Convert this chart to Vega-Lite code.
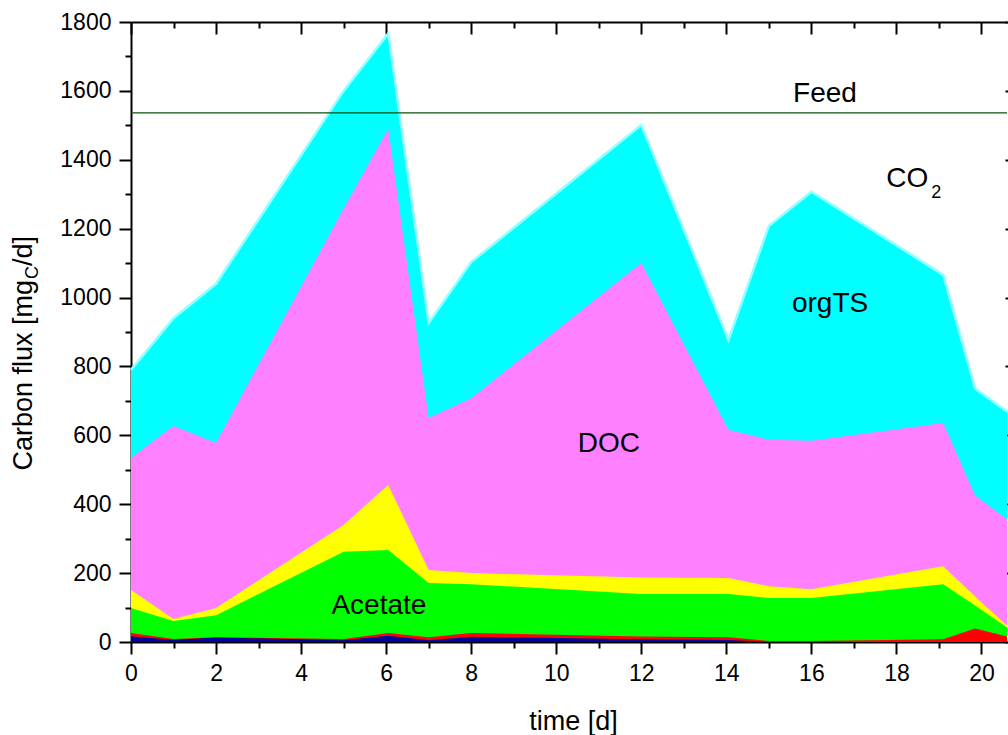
{
  "$schema": "https://vega.github.io/schema/vega-lite/v6.json",
  "width": 876,
  "height": 620,
  "autosize": {"type": "none"},
  "padding": {"left": 131, "top": 22, "right": 1, "bottom": 93},
  "background": "white",
  "config": {
    "view": {"stroke": null},
    "axis": {
      "grid": false,
      "domainColor": "black",
      "domainWidth": 2,
      "tickColor": "black",
      "tickWidth": 2,
      "labelFont": "Liberation Sans",
      "labelFontSize": 23,
      "labelColor": "black",
      "labelFlush": false,
      "labelOverlap": false,
      "titleFont": "Liberation Sans",
      "titleColor": "black",
      "titleFontWeight": "normal"
    },
    "text": {"font": "Liberation Sans", "fill": "black", "fontWeight": "normal"}
  },
  "datasets": {
    "flux": [
      {"s": "orgTS", "t": 0, "v": 790}, {"s": "orgTS", "t": 1, "v": 940}, {"s": "orgTS", "t": 2, "v": 1040},
      {"s": "orgTS", "t": 5, "v": 1600}, {"s": "orgTS", "t": 6.05, "v": 1767}, {"s": "orgTS", "t": 7, "v": 926},
      {"s": "orgTS", "t": 8, "v": 1103}, {"s": "orgTS", "t": 12, "v": 1501}, {"s": "orgTS", "t": 14.05, "v": 877},
      {"s": "orgTS", "t": 15, "v": 1208}, {"s": "orgTS", "t": 16, "v": 1307}, {"s": "orgTS", "t": 19.1, "v": 1066},
      {"s": "orgTS", "t": 19.85, "v": 736}, {"s": "orgTS", "t": 20.6, "v": 669},

      {"s": "DOC", "t": 0, "v": 534}, {"s": "DOC", "t": 1, "v": 627}, {"s": "DOC", "t": 2, "v": 578},
      {"s": "DOC", "t": 5, "v": 1258}, {"s": "DOC", "t": 6.05, "v": 1489}, {"s": "DOC", "t": 7, "v": 650},
      {"s": "DOC", "t": 8, "v": 708}, {"s": "DOC", "t": 12, "v": 1100}, {"s": "DOC", "t": 14.05, "v": 616},
      {"s": "DOC", "t": 15, "v": 587}, {"s": "DOC", "t": 16, "v": 584}, {"s": "DOC", "t": 19.1, "v": 636},
      {"s": "DOC", "t": 19.85, "v": 425}, {"s": "DOC", "t": 20.6, "v": 356},

      {"s": "otherAcids", "t": 0, "v": 151}, {"s": "otherAcids", "t": 1, "v": 67}, {"s": "otherAcids", "t": 2, "v": 99},
      {"s": "otherAcids", "t": 5, "v": 340}, {"s": "otherAcids", "t": 6.05, "v": 456}, {"s": "otherAcids", "t": 7, "v": 209},
      {"s": "otherAcids", "t": 8, "v": 200}, {"s": "otherAcids", "t": 12, "v": 187}, {"s": "otherAcids", "t": 14.05, "v": 186},
      {"s": "otherAcids", "t": 15, "v": 162}, {"s": "otherAcids", "t": 16, "v": 153}, {"s": "otherAcids", "t": 19.1, "v": 220},
      {"s": "otherAcids", "t": 19.85, "v": 132}, {"s": "otherAcids", "t": 20.6, "v": 48},

      {"s": "Acetate", "t": 0, "v": 99}, {"s": "Acetate", "t": 1, "v": 61}, {"s": "Acetate", "t": 2, "v": 78},
      {"s": "Acetate", "t": 5, "v": 262}, {"s": "Acetate", "t": 6.05, "v": 267}, {"s": "Acetate", "t": 7, "v": 171},
      {"s": "Acetate", "t": 8, "v": 168}, {"s": "Acetate", "t": 12, "v": 139}, {"s": "Acetate", "t": 14.05, "v": 139},
      {"s": "Acetate", "t": 15, "v": 128}, {"s": "Acetate", "t": 16, "v": 128}, {"s": "Acetate", "t": 19.1, "v": 168},
      {"s": "Acetate", "t": 19.85, "v": 106}, {"s": "Acetate", "t": 20.6, "v": 42},

      {"s": "minorA", "t": 0, "v": 26}, {"s": "minorA", "t": 1, "v": 9}, {"s": "minorA", "t": 2, "v": 14},
      {"s": "minorA", "t": 5, "v": 9}, {"s": "minorA", "t": 6.05, "v": 26}, {"s": "minorA", "t": 7, "v": 14},
      {"s": "minorA", "t": 8, "v": 26}, {"s": "minorA", "t": 12, "v": 16}, {"s": "minorA", "t": 14.05, "v": 14},
      {"s": "minorA", "t": 15, "v": 3}, {"s": "minorA", "t": 16, "v": 3}, {"s": "minorA", "t": 19.1, "v": 8},
      {"s": "minorA", "t": 19.85, "v": 39}, {"s": "minorA", "t": 20.6, "v": 16},

      {"s": "minorB", "t": 0, "v": 17}, {"s": "minorB", "t": 1, "v": 6}, {"s": "minorB", "t": 2, "v": 13},
      {"s": "minorB", "t": 5, "v": 5}, {"s": "minorB", "t": 6.05, "v": 18}, {"s": "minorB", "t": 7, "v": 5},
      {"s": "minorB", "t": 8, "v": 15}, {"s": "minorB", "t": 12, "v": 8}, {"s": "minorB", "t": 14.05, "v": 6},
      {"s": "minorB", "t": 15, "v": 0}, {"s": "minorB", "t": 16, "v": 0}, {"s": "minorB", "t": 19.1, "v": 0},
      {"s": "minorB", "t": 19.85, "v": 0}, {"s": "minorB", "t": 20.6, "v": 0}
    ],
    "one": [{}]
  },
  "resolve": {"axis": {"x": "independent", "y": "independent"}},
  "layer": [
    {
      "data": {"name": "flux"},
      "transform": [{"filter": "datum.s === 'orgTS'"}],
      "mark": {"type": "area", "color": "#00ffff", "opacity": 1},
      "encoding": {
        "x": {"field": "t", "type": "quantitative", "scale": {"domain": [0, 20.6], "nice": false, "zero": false},
          "axis": {"orient": "bottom", "values": [0, 2, 4, 6, 8, 10, 12, 14, 16, 18, 20], "tickSize": 12, "labelPadding": 8,
            "title": "time [d]", "titleFontSize": 27, "titleX": 442, "titleY": 87, "titleAlign": "center", "titleBaseline": "alphabetic"}},
        "y": {"field": "v", "type": "quantitative", "stack": null, "scale": {"domain": [0, 1800], "nice": false},
          "axis": {"orient": "left", "format": "d", "values": [0, 200, 400, 600, 800, 1000, 1200, 1400, 1600, 1800], "tickSize": 12, "labelPadding": 8, "title": null}}
      }
    },
    {
      "data": {"name": "flux"},
      "transform": [{"filter": "datum.s === 'orgTS'"}],
      "mark": {"type": "line", "color": "#90ffff", "strokeWidth": 2.5},
      "encoding": {
        "x": {"field": "t", "type": "quantitative", "scale": {"domain": [0, 20.6], "nice": false, "zero": false},
          "axis": {"orient": "bottom", "values": [1, 3, 5, 7, 9, 11, 13, 15, 17, 19], "tickSize": 6, "labels": false, "domain": false, "title": null}},
        "y": {"field": "v", "type": "quantitative", "scale": {"domain": [0, 1800], "nice": false},
          "axis": {"orient": "left", "values": [100, 300, 500, 700, 900, 1100, 1300, 1500, 1700], "tickSize": 6, "labels": false, "domain": false, "title": null}}
      }
    },
    {
      "data": {"name": "flux"},
      "transform": [{"filter": "datum.s === 'DOC'"}],
      "mark": {"type": "area", "color": "#ff80ff", "opacity": 1},
      "encoding": {
        "x": {"field": "t", "type": "quantitative", "scale": {"domain": [0, 20.6], "nice": false, "zero": false},
          "axis": {"orient": "top", "values": [0, 2, 4, 6, 8, 10, 12, 14, 16, 18, 20], "tickSize": -12, "labels": false, "title": null}},
        "y": {"field": "v", "type": "quantitative", "stack": null, "scale": {"domain": [0, 1800], "nice": false},
          "axis": {"orient": "right", "offset": 9, "values": [0, 200, 400, 600, 800, 1000, 1200, 1400, 1600, 1800], "tickSize": -11, "labels": false, "domain": false, "title": null}}
      }
    },
    {
      "data": {"name": "flux"},
      "transform": [{"filter": "datum.s === 'otherAcids'"}],
      "mark": {"type": "area", "color": "#ffff00", "opacity": 1},
      "encoding": {
        "x": {"field": "t", "type": "quantitative", "scale": {"domain": [0, 20.6], "nice": false, "zero": false},
          "axis": {"orient": "top", "values": [1, 3, 5, 7, 9, 11, 13, 15, 17, 19], "tickSize": -6, "labels": false, "domain": false, "title": null}},
        "y": {"field": "v", "type": "quantitative", "stack": null, "scale": {"domain": [0, 1800], "nice": false},
          "axis": {"orient": "right", "offset": 9, "values": [100, 300, 500, 700, 900, 1100, 1300, 1500, 1700], "tickSize": -6, "labels": false, "domain": false, "title": null}}
      }
    },
    {
      "data": {"name": "flux"},
      "transform": [{"filter": "datum.s === 'Acetate'"}],
      "mark": {"type": "area", "color": "#00ff00", "opacity": 1},
      "encoding": {
        "x": {"field": "t", "type": "quantitative", "scale": {"domain": [0, 20.6], "nice": false, "zero": false}, "axis": null},
        "y": {"field": "v", "type": "quantitative", "stack": null, "scale": {"domain": [0, 1800], "nice": false}, "axis": null}
      }
    },
    {
      "data": {"name": "flux"},
      "transform": [{"filter": "datum.s === 'minorA'"}],
      "mark": {"type": "area", "color": "#ff0000", "opacity": 1},
      "encoding": {
        "x": {"field": "t", "type": "quantitative", "scale": {"domain": [0, 20.6], "nice": false, "zero": false}, "axis": null},
        "y": {"field": "v", "type": "quantitative", "stack": null, "scale": {"domain": [0, 1800], "nice": false}, "axis": null}
      }
    },
    {
      "data": {"name": "flux"},
      "transform": [{"filter": "datum.s === 'minorB'"}],
      "mark": {"type": "area", "color": "#0000a0", "opacity": 1},
      "encoding": {
        "x": {"field": "t", "type": "quantitative", "scale": {"domain": [0, 20.6], "nice": false, "zero": false}, "axis": null},
        "y": {"field": "v", "type": "quantitative", "stack": null, "scale": {"domain": [0, 1800], "nice": false}, "axis": null}
      }
    },
    {
      "data": {"name": "one"},
      "mark": {"type": "rule", "color": "#0b500b", "strokeWidth": 1.2},
      "encoding": {
        "y": {"datum": 1536, "type": "quantitative", "scale": {"domain": [0, 1800], "nice": false}, "axis": null}
      }
    },
    {
      "data": {"name": "one"},
      "mark": {"type": "text", "text": "Feed", "fontSize": 28, "align": "center", "baseline": "alphabetic"},
      "encoding": {
        "x": {"datum": 16.32, "type": "quantitative", "scale": {"domain": [0, 20.6], "nice": false, "zero": false}, "axis": null},
        "y": {"datum": 1568, "type": "quantitative", "scale": {"domain": [0, 1800], "nice": false}, "axis": null}
      }
    },
    {
      "data": {"name": "one"},
      "mark": {"type": "text", "text": "CO", "fontSize": 28, "align": "left", "baseline": "alphabetic"},
      "encoding": {
        "x": {"datum": 17.76, "type": "quantitative", "scale": {"domain": [0, 20.6], "nice": false, "zero": false}, "axis": null},
        "y": {"datum": 1321, "type": "quantitative", "scale": {"domain": [0, 1800], "nice": false}, "axis": null}
      }
    },
    {
      "data": {"name": "one"},
      "mark": {"type": "text", "text": "2", "fontSize": 18, "align": "left", "baseline": "alphabetic", "dx": 45, "dy": 11},
      "encoding": {
        "x": {"datum": 17.76, "type": "quantitative", "scale": {"domain": [0, 20.6], "nice": false, "zero": false}, "axis": null},
        "y": {"datum": 1321, "type": "quantitative", "scale": {"domain": [0, 1800], "nice": false}, "axis": null}
      }
    },
    {
      "data": {"name": "one"},
      "mark": {"type": "text", "text": "orgTS", "fontSize": 28, "align": "center", "baseline": "alphabetic"},
      "encoding": {
        "x": {"datum": 16.44, "type": "quantitative", "scale": {"domain": [0, 20.6], "nice": false, "zero": false}, "axis": null},
        "y": {"datum": 958, "type": "quantitative", "scale": {"domain": [0, 1800], "nice": false}, "axis": null}
      }
    },
    {
      "data": {"name": "one"},
      "mark": {"type": "text", "text": "DOC", "fontSize": 28, "align": "center", "baseline": "alphabetic"},
      "encoding": {
        "x": {"datum": 11.24, "type": "quantitative", "scale": {"domain": [0, 20.6], "nice": false, "zero": false}, "axis": null},
        "y": {"datum": 551, "type": "quantitative", "scale": {"domain": [0, 1800], "nice": false}, "axis": null}
      }
    },
    {
      "data": {"name": "one"},
      "mark": {"type": "text", "text": "Acetate", "fontSize": 28, "align": "center", "baseline": "alphabetic"},
      "encoding": {
        "x": {"datum": 5.83, "type": "quantitative", "scale": {"domain": [0, 20.6], "nice": false, "zero": false}, "axis": null},
        "y": {"datum": 81, "type": "quantitative", "scale": {"domain": [0, 1800], "nice": false}, "axis": null}
      }
    },
    {
      "data": {"name": "one"},
      "mark": {"type": "text", "text": "Carbon flux [mg", "fontSize": 27, "angle": 270, "align": "right", "baseline": "alphabetic"},
      "encoding": {
        "x": {"datum": -2.33, "type": "quantitative", "scale": {"domain": [0, 20.6], "nice": false, "zero": false}, "axis": null},
        "y": {"datum": 1051, "type": "quantitative", "scale": {"domain": [0, 1800], "nice": false}, "axis": null}
      }
    },
    {
      "data": {"name": "one"},
      "mark": {"type": "text", "text": "C", "fontSize": 18, "angle": 270, "align": "left", "baseline": "alphabetic", "dx": 1, "dy": 6},
      "encoding": {
        "x": {"datum": -2.33, "type": "quantitative", "scale": {"domain": [0, 20.6], "nice": false, "zero": false}, "axis": null},
        "y": {"datum": 1051, "type": "quantitative", "scale": {"domain": [0, 1800], "nice": false}, "axis": null}
      }
    },
    {
      "data": {"name": "one"},
      "mark": {"type": "text", "text": "/d]", "fontSize": 27, "angle": 270, "align": "left", "baseline": "alphabetic", "dx": 14},
      "encoding": {
        "x": {"datum": -2.33, "type": "quantitative", "scale": {"domain": [0, 20.6], "nice": false, "zero": false}, "axis": null},
        "y": {"datum": 1051, "type": "quantitative", "scale": {"domain": [0, 1800], "nice": false}, "axis": null}
      }
    }
  ]
}
